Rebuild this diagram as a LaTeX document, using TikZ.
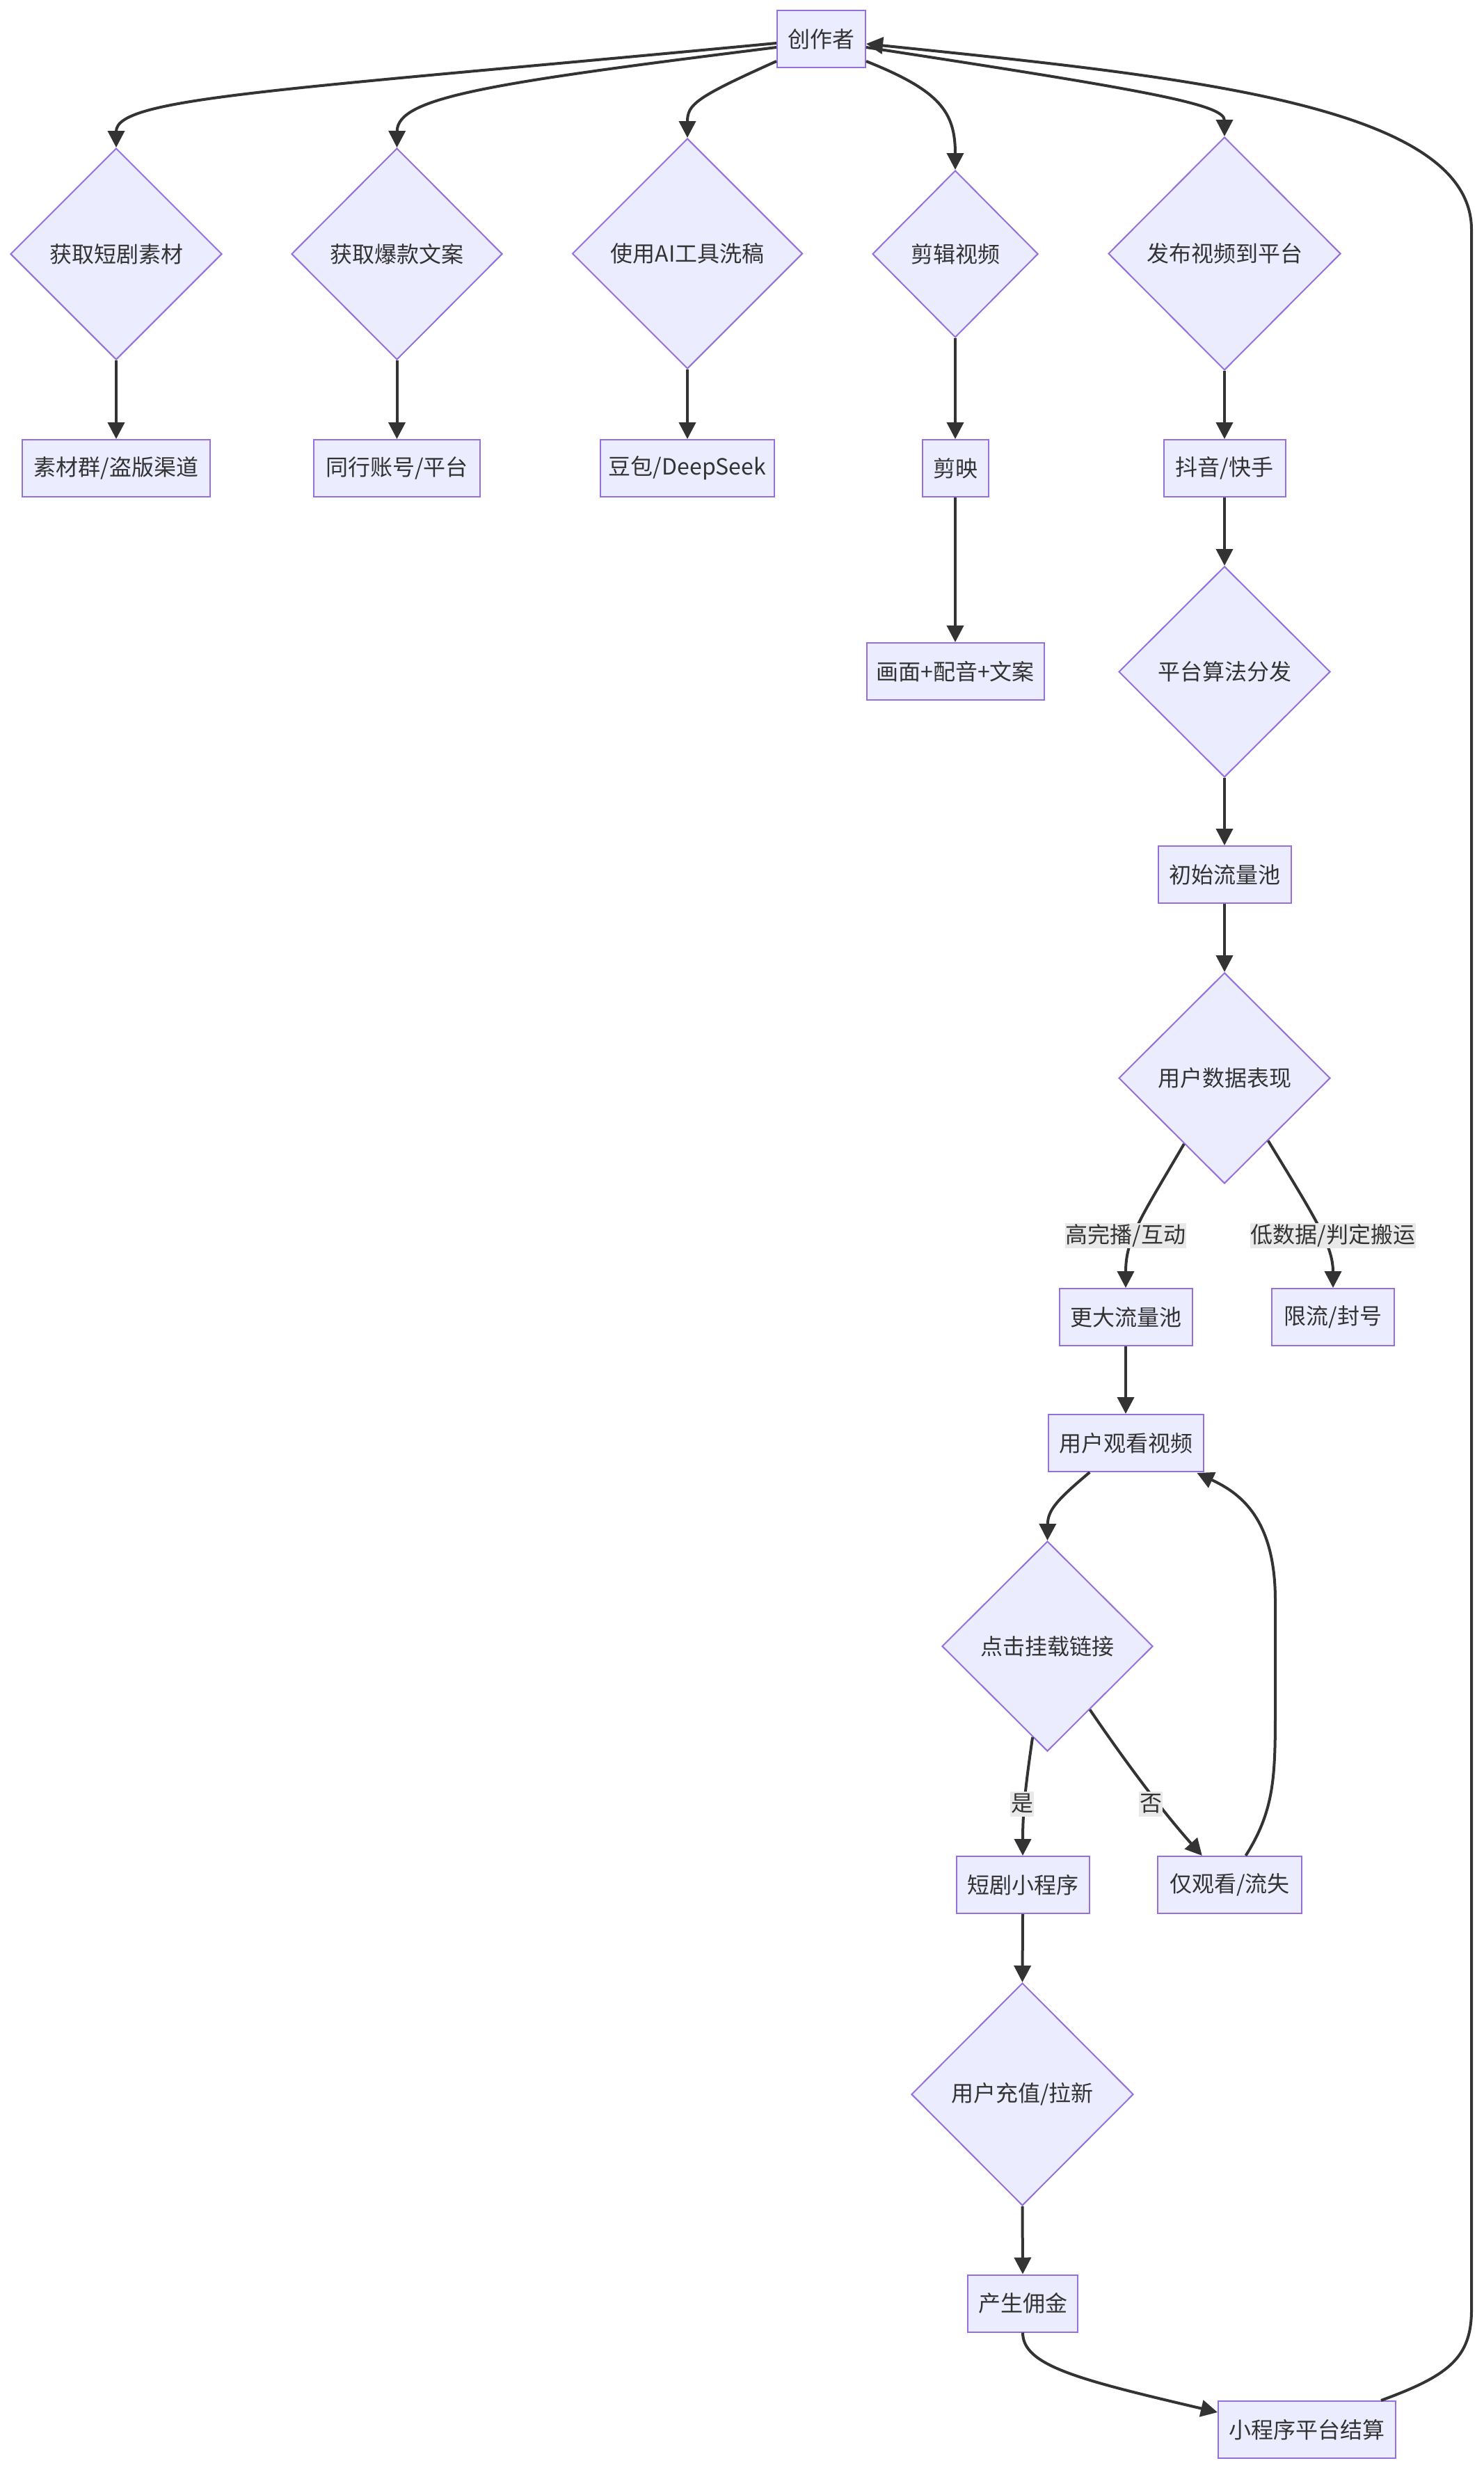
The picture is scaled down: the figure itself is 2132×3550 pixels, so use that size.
\documentclass[tikz,border=0pt]{standalone}
\usepackage{fontspec}
\setmainfont{Noto Sans CJK SC}
\usetikzlibrary{shapes.geometric,arrows.meta,calc}
\definecolor{nfill}{HTML}{ECECFF}
\definecolor{nline}{HTML}{9370DB}
\definecolor{eline}{HTML}{333333}
\definecolor{lblbg}{HTML}{E9E9E9}
\definecolor{txt}{HTML}{333333}
\begin{document}
\begin{tikzpicture}[x=0.5pt,y=-0.5pt,
  nfont/.style={font=\fontsize{16}{19}\selectfont},
  box/.style={draw=nline,fill=nfill,line width=1pt,minimum height=41pt,inner sep=0pt,text=txt,nfont},
  dia/.style={shape=diamond,draw=nline,fill=nfill,line width=1pt,inner sep=0pt,text=txt,nfont},
  conn/.style={draw=eline,line width=2pt,-{Triangle[length=12pt,width=12pt]}},
  lbl/.style={fill=lblbg,inner xsep=0.5pt,inner ysep=1pt,text height=13pt,text depth=3pt,text=txt,nfont}
]
\fill[white] (0,0) rectangle (2132,3550);
\useasboundingbox (0,0) rectangle (2132,3550);

% nodes
\node[box,minimum width=63.5pt] (cz) at (1180.5,56) {创作者};
\node[dia,minimum width=152pt,minimum height=152pt] (d1) at (167,365) {获取短剧素材};
\node[box,minimum width=135pt] (b1) at (167,673) {素材群/盗版渠道};
\node[dia,minimum width=151.5pt,minimum height=152pt] (d2) at (570.5,365) {获取爆款文案};
\node[box,minimum width=119.5pt] (b2) at (570.5,673) {同行账号/平台};
\node[dia,minimum width=165.5pt,minimum height=165.5pt] (d3) at (988,364.5) {使用AI工具洗稿};
\node[box,minimum width=125pt] (b3) at (988,673) {豆包/DeepSeek};
\node[dia,minimum width=119pt,minimum height=120pt] (d4) at (1373,365) {剪辑视频};
\node[box,minimum width=47.5pt] (b4) at (1373,673) {剪映};
\node[box,minimum width=127.5pt] (b5) at (1373,965) {画面+配音+文案};
\node[dia,minimum width=167pt,minimum height=167.5pt] (d5) at (1760,364.5) {发布视频到平台};
\node[box,minimum width=87.5pt] (b6) at (1760,673) {抖音/快手};
\node[dia,minimum width=152pt,minimum height=151.5pt] (d6) at (1760,965.5) {平台算法分发};
\node[box,minimum width=95.5pt] (b7) at (1760,1257) {初始流量池};
\node[dia,minimum width=152pt,minimum height=151.5pt] (d7) at (1760,1549.5) {用户数据表现};
\node[box,minimum width=95.5pt] (b8) at (1618,1893) {更大流量池};
\node[box,minimum width=88pt] (b9) at (1916,1893) {限流/封号};
\node[box,minimum width=111.5pt] (b10) at (1618,2074) {用户观看视频};
\node[dia,minimum width=151.5pt,minimum height=151pt] (d8) at (1505.5,2366) {点击挂载链接};
\node[box,minimum width=95.5pt] (b11) at (1470,2709) {短剧小程序};
\node[box,minimum width=103.5pt] (b12) at (1767.5,2709) {仅观看/流失};
\node[dia,minimum width=159.5pt,minimum height=160pt] (d9) at (1469.5,3010) {用户充值/拉新};
\node[box,minimum width=79pt] (b13) at (1470,3310.5) {产生佣金};
\node[box,minimum width=127.5pt] (b14) at (1878.5,3492) {小程序平台结算};

% edges from creator
\draw[conn] ($(cz.west)+(0,6)$) .. controls (400,130) and (167,140) .. (d1.north);
\draw[conn] ($(cz.west)+(0,12)$) .. controls (700,120) and (571,140) .. (d2.north);
\draw[conn] ($(cz.south west)+(0,-10)$) .. controls (1000,140) and (988,150) .. (d3.north);
\draw[conn] ($(cz.south east)+(0,-10)$) .. controls (1350,130) and (1373,160) .. (d4.north);
\draw[conn] ($(cz.east)+(0,12)$) .. controls (1650,130) and (1760,150) .. (d5.north);

% straight edges
\draw[conn] (d1.south) -- (b1.north);
\draw[conn] (d2.south) -- (b2.north);
\draw[conn] (d3.south) -- (b3.north);
\draw[conn] (d4.south) -- (b4.north);
\draw[conn] (b4.south) -- (b5.north);
\draw[conn] (d5.south) -- (b6.north);
\draw[conn] (b6.south) -- (d6.north);
\draw[conn] (d6.south) -- (b7.north);
\draw[conn] (b7.south) -- (d7.north);
\draw[conn] (b8.south) -- (b10.north);
\draw[conn] (b11.south) -- (d9.north);
\draw[conn] (d9.south) -- (b13.north);

% branch edges
\draw[conn] ($(d7.west)!0.62!(d7.south)$) .. controls (1640,1750) and (1618,1780) .. (b8.north);
\draw[conn] ($(d7.east)!0.59!(d7.south)$) .. controls (1890,1750) and (1916,1790) .. (b9.north);
\draw[conn] ($(b10.south west)!0.27!(b10.south east)$) .. controls (1520,2155) and (1506,2170) .. (d8.north);
\draw[conn] ($(d8.west)!0.86!(d8.south)$) .. controls (1475,2560) and (1470,2600) .. (b11.north);
\draw[conn] ($(d8.east)!0.6!(d8.south)$) .. controls (1640,2565) and (1690,2625) .. ($(b12.north west)!0.31!(b12.north east)$);
\draw[conn] ($(b12.north west)!0.61!(b12.north east)$) .. controls (1833,2600) and (1833,2550) .. (1833,2450) -- (1833,2300) .. controls (1833,2180) and (1780,2145) .. ($(b10.south east)+(-10,1)$);
\draw[conn] (b13.south) .. controls (1470,3400) and (1550,3420) .. ($(b14.west)+(0,-25)$);

% return edge
\draw[conn] ($(b14.north east)+(-22,0)$) .. controls (2080,3415) and (2115,3390) .. (2115,3320) -- (2115,330) .. controls (2115,150) and (1700,110) .. ($(cz.east)+(0,7)$);

% labels
\node[lbl] (l1) at (1618,1776) {高完播/互动};
\node[lbl] (l2) at (1916,1776) {低数据/判定搬运};
\node[lbl] (l3) at (1469,2593) {是};
\node[lbl] (l4) at (1654,2593) {否};
\end{tikzpicture}
\end{document}
